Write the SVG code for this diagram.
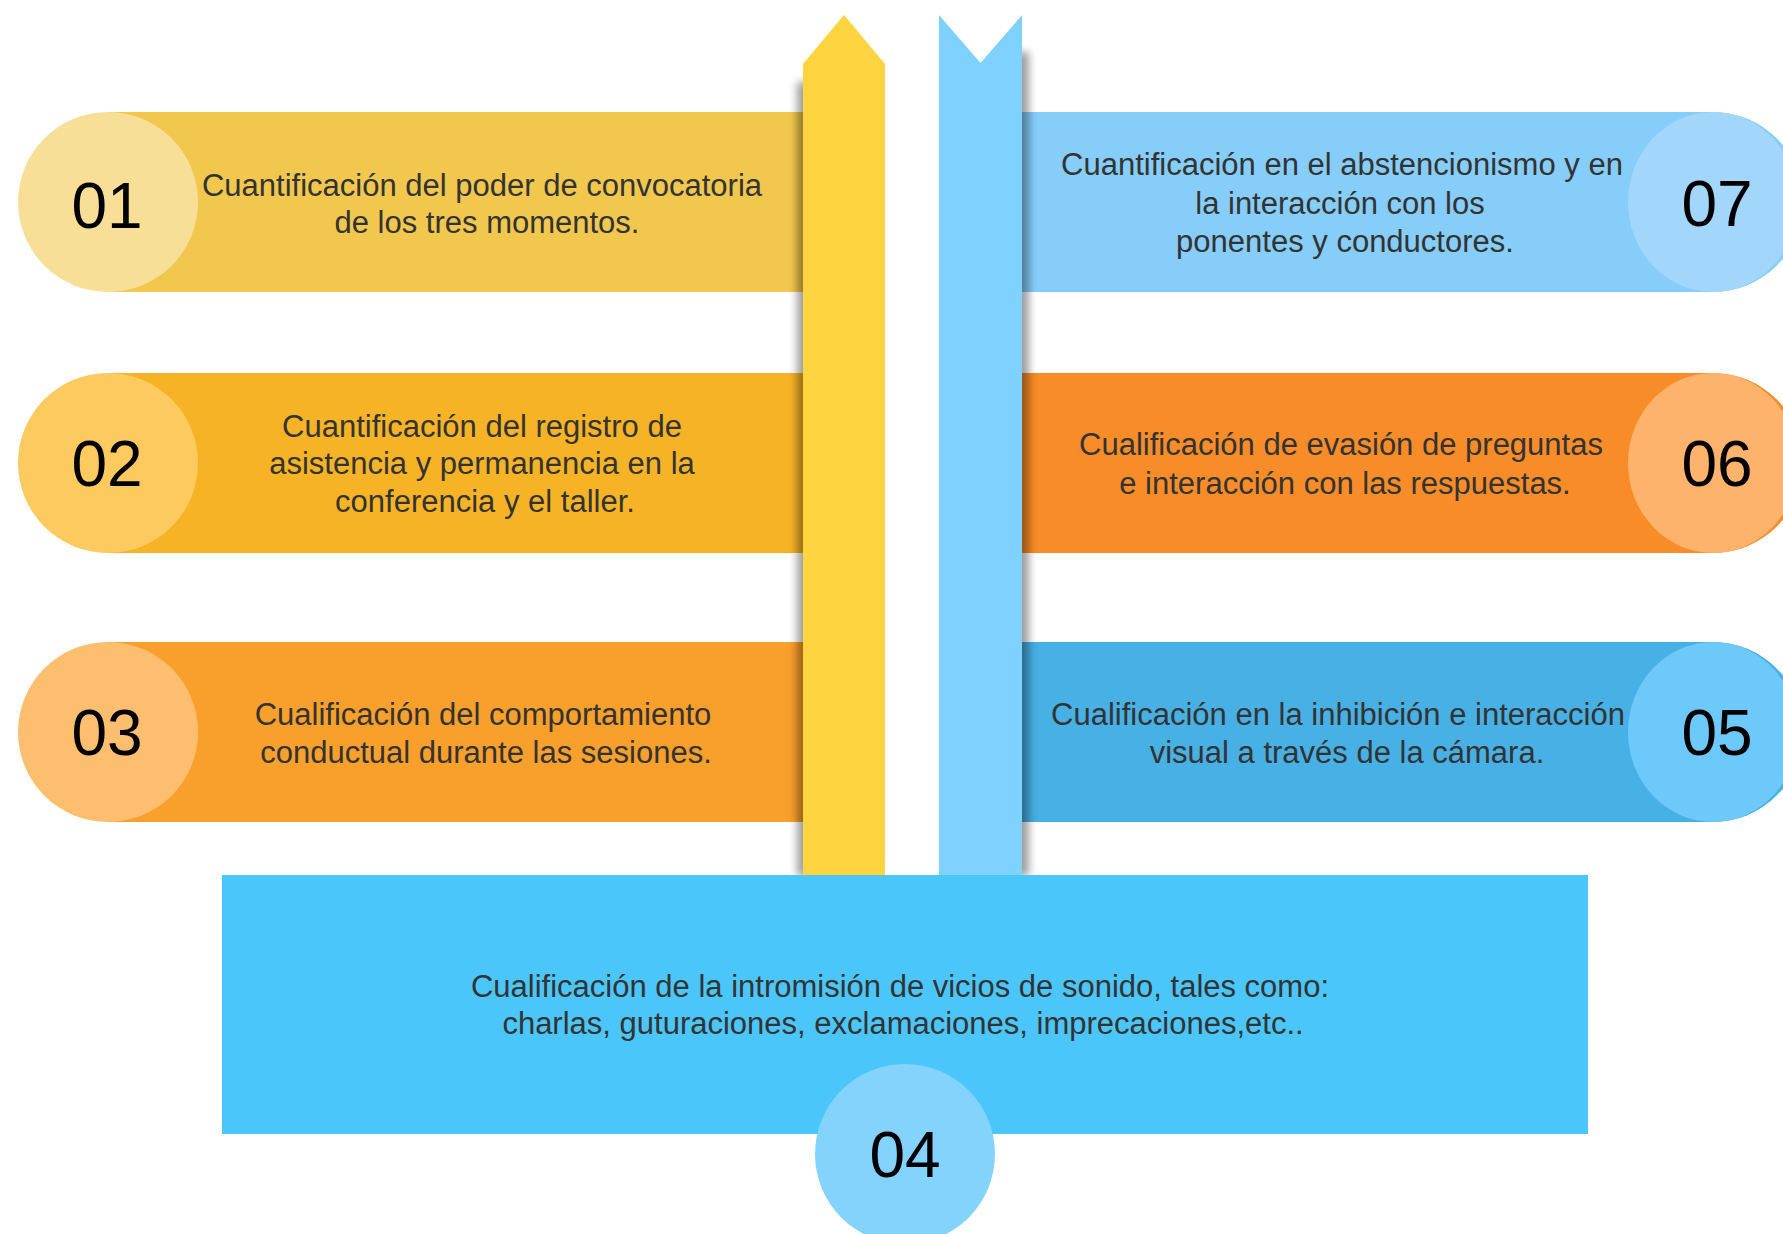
<svg xmlns="http://www.w3.org/2000/svg" width="1783" height="1234" viewBox="0 0 1783 1234">
  <defs>
    <filter id="blur" x="-2" y="-0.2" width="5" height="1.4">
      <feGaussianBlur stdDeviation="4.5"/>
    </filter>
  </defs>
  <style>
    .t { font-family: "Liberation Sans", Arial, sans-serif; font-size: 31px; fill: #333333; text-anchor: middle; }
    .n { font-family: "Liberation Sans", Arial, sans-serif; font-size: 64px; fill: #000000; text-anchor: middle; }
    .sh { fill: #000000; opacity: 0.38; }
  </style>
  <rect width="1783" height="1234" fill="#ffffff"/>

  <g id="node-01">
    <rect x="108" y="112" width="700" height="180" fill="#F1C74E"/>
    <circle cx="108" cy="202" r="90" fill="#F8DF98"/>
    <text class="n" x="107" y="228">01</text>
    <text class="t" x="482" y="196">Cuantificación del poder de convocatoria</text>
    <text class="t" x="487" y="233">de los tres momentos.</text>
  </g>

  <g id="node-02">
    <rect x="108" y="373" width="700" height="180" fill="#F6B326"/>
    <circle cx="108" cy="463" r="90" fill="#FCCA5F"/>
    <text class="n" x="107" y="486">02</text>
    <text class="t" x="482" y="437">Cuantificación del registro de</text>
    <text class="t" x="482" y="474">asistencia y permanencia en la</text>
    <text class="t" x="485" y="512">conferencia y el taller.</text>
  </g>

  <g id="node-03">
    <rect x="108" y="642" width="700" height="180" fill="#F99F2B"/>
    <circle cx="108" cy="732" r="90" fill="#FDBE6F"/>
    <text class="n" x="107" y="755">03</text>
    <text class="t" x="483" y="725">Cualificación del comportamiento</text>
    <text class="t" x="486" y="763">conductual durante las sesiones.</text>
  </g>

  <g id="node-07">
    <path d="M1015,112 H1713 A90,90 0 0 1 1713,292 H1015 Z" fill="#86CDFA"/>
    <text class="t" x="1342" y="175">Cuantificación en el abstencionismo y en</text>
    <text class="t" x="1340" y="214">la interacción con los</text>
    <text class="t" x="1345" y="252">ponentes y conductores.</text>
    <ellipse cx="1713" cy="202" rx="85" ry="90" fill="#A2D7FB"/>
    <text class="n" x="1717" y="226">07</text>
  </g>

  <g id="node-06">
    <path d="M1015,373 H1713 A90,90 0 0 1 1713,553 H1015 Z" fill="#F78C28"/>
    <text class="t" x="1341" y="455">Cualificación de evasión de preguntas</text>
    <text class="t" x="1345" y="494">e interacción con las respuestas.</text>
    <ellipse cx="1713" cy="463" rx="85" ry="90" fill="#FDB36B"/>
    <text class="n" x="1717" y="486">06</text>
  </g>

  <g id="node-05">
    <path d="M1015,642 H1713 A90,90 0 0 1 1713,822 H1015 Z" fill="#47B0E5"/>
    <text class="t" x="1338" y="725">Cualificación en la inhibición e interacción</text>
    <text class="t" x="1347" y="763">visual a través de la cámara.</text>
    <ellipse cx="1713" cy="732" rx="85" ry="90" fill="#6DC9F9"/>
    <text class="n" x="1717" y="755">05</text>
  </g>

  <g id="connectors">
    <rect class="sh" x="797" y="82" width="18" height="794" filter="url(#blur)"/>
    <rect class="sh" x="1010" y="52" width="19" height="824" filter="url(#blur)"/>
    <path d="M803,64 L844,15 L885,64 V880 H803 Z" fill="#FED440"/>
    <path d="M939,15 L980.5,63 L1022,15 V880 H939 Z" fill="#7FD2FF"/>
  </g>

  <g id="node-04">
    <rect x="222" y="875" width="1366" height="259" fill="#4BC6FB"/>
    <text class="t" x="900" y="997">Cualificación de la intromisión de vicios de sonido, tales como:</text>
    <text class="t" x="903" y="1034">charlas, guturaciones, exclamaciones, imprecaciones,etc..</text>
    <circle cx="905" cy="1154" r="90" fill="#84D3FD"/>
    <text class="n" x="905" y="1177">04</text>
  </g>
</svg>
